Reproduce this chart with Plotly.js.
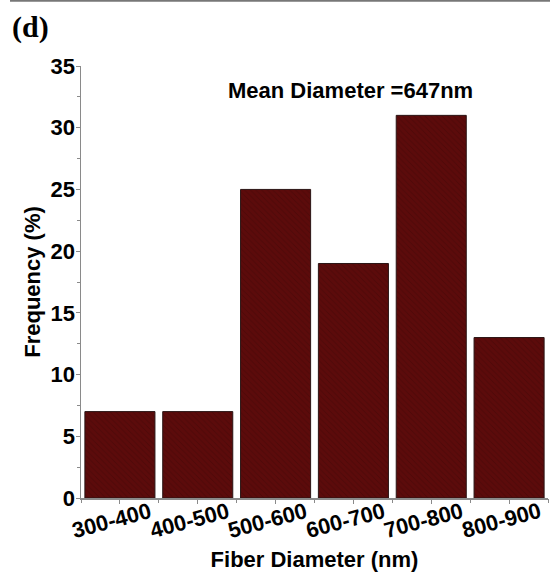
<!DOCTYPE html>
<html>
<head>
<meta charset="utf-8">
<script src="https://cdn.plot.ly/plotly-3.0.1.min.js"></script>
<style>
html,body{margin:0;padding:0;background:#fff;}
#chart{width:550px;height:577px;}
</style>
</head>
<body>
<div id="chart"></div>
<script>
const categories = ["300-400", "400-500", "500-600", "600-700", "700-800", "800-900"];
const frequency = [7, 7, 25, 19, 31, 13];
const yTickVals = [0, 5, 10, 15, 20, 25, 30, 35];
const panelLabel = "(d)";
const meanLabel = "Mean Diameter =647nm";
const xTitle = "Fiber Diameter (nm)";
const yTitle = "Frequency (%)";

const font = "'Liberation Sans', Arial, sans-serif";
const fs = 22;
const labelFont = {family: font, size: fs, color: "#000", weight: "bold"};

const trace = {
  type: "bar",
  x: categories,
  y: frequency,
  marker: {
    color: "#5c0b0b",
    line: {color: "#2b1515", width: 1},
    pattern: {shape: "\\", fgcolor: "#4f0808", bgcolor: "#5c0b0b", size: 4, solidity: 0.25}
  },
  hoverinfo: "x+y"
};
const ghost = {
  type: "bar", x: categories, y: frequency, xaxis: "x2",
  marker: {color: "rgba(0,0,0,0)"}, hoverinfo: "skip", showlegend: false
};

// rotated category labels placed through the category axis
const tickAnnotations = categories.map(c => ({
  text: c, x: c, xref: "x", y: 0, yref: "y",
  xanchor: "center", yanchor: "middle", xshift: -8, yshift: -22,
  textangle: -15, showarrow: false, font: labelFont
}));

const layout = {
  width: 550, height: 577,
  margin: {l: 81, r: 2, t: 66, b: 79},
  paper_bgcolor: "#fff", plot_bgcolor: "#fff",
  showlegend: false,
  bargap: 0.1,
  font: {family: font, color: "#000"},
  xaxis: {
    type: "category",
    automargin: false,
    showline: true, linecolor: "#8a8a8a", linewidth: 1.5,
    ticks: "outside", ticklen: 4, tickcolor: "#8a8a8a", tickwidth: 1,
    showticklabels: false,
    showgrid: false, zeroline: false,
    range: [-0.5, 5.5],
    title: {text: xTitle, font: labelFont, standoff: 49}
  },
  xaxis2: {
    type: "category", overlaying: "x", anchor: "y",
    tickson: "boundaries", ticks: "outside", ticklen: 4, tickcolor: "#8a8a8a",
    showticklabels: false, showgrid: false, showline: false, zeroline: false,
    range: [-0.5, 5.5]
  },
  yaxis: {
    range: [0, 35],
    automargin: false,
    tickvals: yTickVals,
    showline: true, linecolor: "#8a8a8a", linewidth: 1.5,
    ticks: "outside", ticklen: 4, tickcolor: "#8a8a8a", tickwidth: 1,
    ticklabelstandoff: -4,
    minor: {dtick: 2.5, ticks: "outside", ticklen: 3, tickcolor: "#8a8a8a", showgrid: false},
    tickfont: labelFont,
    showgrid: false, zeroline: false,
    title: {text: yTitle, font: labelFont, standoff: 4}
  },
  shapes: [
    {type: "line", xref: "paper", yref: "paper", x0: -0.152, x1: 1.01, y0: 1.151, y1: 1.151,
     line: {color: "#777", width: 2}}
  ],
  annotations: [
    {text: panelLabel, xref: "paper", yref: "paper", x: -0.152, y: 1.09, xanchor: "left", yanchor: "middle",
     showarrow: false, font: {family: "'Liberation Serif', 'Times New Roman', serif", size: 30, color: "#000", weight: "bold"}},
    {text: meanLabel, xref: "paper", yref: "paper", x: 0.578, y: 0.944, xanchor: "center", yanchor: "middle",
     showarrow: false, font: labelFont}
  ].concat(tickAnnotations)
};

Plotly.newPlot("chart", [trace, ghost], layout, {displayModeBar: false, staticPlot: true});
</script>
</body>
</html>
